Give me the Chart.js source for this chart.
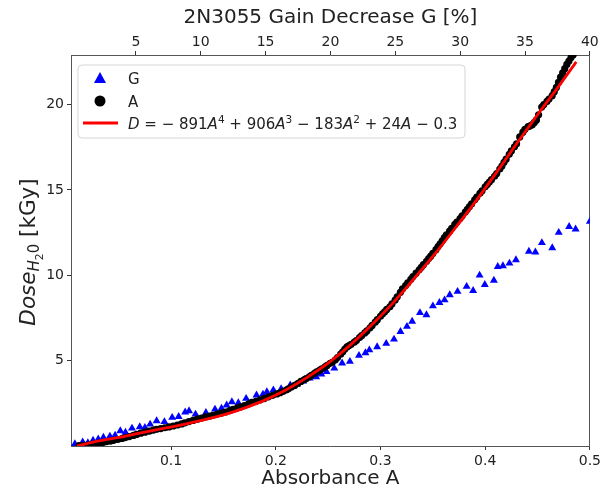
<!DOCTYPE html>
<html>
<head>
<meta charset="utf-8">
<script src="https://cdn.jsdelivr.net/npm/chart.js@4/dist/chart.umd.min.js"></script>
<style>
  html, body { margin: 0; padding: 0; background: #fff; }
</style>
</head>
<body>
<canvas id="chart" width="604" height="491"></canvas>
<script>
// Absorbance A (bottom axis) vs dose
const absorbance = [0.012, 0.016, 0.020, 0.024, 0.028, 0.031, 0.035, 0.038, 0.042, 0.045,
  0.049, 0.053, 0.056, 0.060, 0.064, 0.067, 0.071, 0.075, 0.079, 0.083,
  0.086, 0.090, 0.094, 0.098, 0.102, 0.106, 0.110, 0.113, 0.117, 0.121,
  0.125, 0.129, 0.133, 0.137, 0.140, 0.144, 0.148, 0.152, 0.156, 0.159,
  0.163, 0.166, 0.170, 0.174, 0.177, 0.181, 0.185, 0.189, 0.193, 0.197,
  0.201, 0.204, 0.207, 0.210, 0.212, 0.215, 0.218, 0.221, 0.224, 0.227,
  0.229, 0.232, 0.234, 0.237, 0.239, 0.242, 0.244, 0.247, 0.249, 0.252,
  0.254, 0.257, 0.259, 0.262, 0.264, 0.266, 0.268, 0.270, 0.272, 0.275,
  0.277, 0.280, 0.282, 0.285, 0.287, 0.290, 0.292, 0.295, 0.297, 0.300,
  0.302, 0.304, 0.306, 0.309, 0.311, 0.314, 0.316, 0.319, 0.321, 0.324,
  0.326, 0.329, 0.331, 0.334, 0.337, 0.339, 0.341, 0.344, 0.346, 0.348,
  0.350, 0.353, 0.355, 0.357, 0.359, 0.361, 0.363, 0.366, 0.368, 0.371,
  0.373, 0.376, 0.378, 0.381, 0.383, 0.385, 0.387, 0.390, 0.392, 0.395,
  0.397, 0.400, 0.402, 0.404, 0.406, 0.409, 0.411, 0.414, 0.416, 0.418,
  0.420, 0.423, 0.425, 0.428, 0.430, 0.433, 0.436, 0.438, 0.441, 0.443,
  0.445, 0.447, 0.449, 0.451, 0.454, 0.456, 0.459, 0.461, 0.464, 0.466,
  0.468, 0.470, 0.472, 0.474, 0.476, 0.478, 0.480, 0.482, 0.484, 0.486];
const doseA = [0.02, 0.04, 0.06, 0.10, 0.14, 0.17, 0.21, 0.25, 0.29, 0.33,
  0.38, 0.44, 0.49, 0.55, 0.62, 0.68, 0.75, 0.81, 0.87, 0.93,
  0.98, 1.02, 1.07, 1.12, 1.17, 1.23, 1.29, 1.35, 1.43, 1.50,
  1.57, 1.64, 1.70, 1.75, 1.80, 1.87, 1.93, 1.99, 2.07, 2.14,
  2.22, 2.29, 2.37, 2.47, 2.55, 2.62, 2.70, 2.78, 2.88, 2.97,
  3.05, 3.12, 3.20, 3.28, 3.35, 3.45, 3.55, 3.66, 3.78, 3.88,
  3.95, 4.05, 4.14, 4.26, 4.35, 4.44, 4.52, 4.63, 4.72, 4.84,
  4.90, 5.05, 5.18, 5.38, 5.52, 5.68, 5.80, 5.88, 5.96, 6.08,
  6.18, 6.35, 6.46, 6.62, 6.74, 6.92, 7.06, 7.25, 7.40, 7.60,
  7.74, 7.86, 8.00, 8.15, 8.32, 8.55, 8.74, 9.00, 9.20, 9.40,
  9.55, 9.76, 9.92, 10.12, 10.32, 10.47, 10.62, 10.82, 10.98, 11.12,
  11.28, 11.50, 11.68, 11.84, 12.02, 12.20, 12.36, 12.58, 12.75, 12.98,
  13.12, 13.32, 13.48, 13.70, 13.86, 14.02, 14.18, 14.42, 14.58, 14.80,
  14.95, 15.18, 15.32, 15.46, 15.60, 15.80, 15.96, 16.22, 16.40, 16.62,
  16.80, 17.08, 17.28, 17.52, 17.70, 18.10, 18.38, 18.55, 18.70, 18.75,
  18.82, 18.95, 19.10, 19.40, 19.85, 20.00, 20.18, 20.32, 20.52, 20.75,
  21.00, 21.30, 21.60, 21.85, 22.10, 22.35, 22.55, 22.75, 22.90, 23.10];

// Gain decrease G in % (top axis) vs dose
const gainG = [0.3, 0.9, 1.3, 1.7, 2.1, 2.5, 3.0, 3.4, 3.8, 4.2,
  4.7, 5.3, 5.7, 6.1, 6.6, 7.2, 7.8, 8.3, 8.8, 9.1,
  9.6, 10.4, 11.1, 11.6, 12.0, 12.4, 12.9, 13.5, 14.3, 14.8,
  15.1, 15.6, 16.2, 16.9, 17.4, 17.9, 18.4, 18.9, 19.3, 19.7,
  20.3, 20.9, 21.5, 22.2, 22.7, 23.0, 23.6, 24.3, 24.9, 25.4,
  25.9, 26.3, 26.9, 27.4, 27.9, 28.4, 28.8, 29.2, 29.8, 30.5,
  31.0, 31.5, 31.9, 32.6, 32.9, 33.3, 33.8, 34.3, 35.3, 35.8,
  36.3, 37.1, 37.6, 38.4, 38.9, 40.0];
const doseG = [0.12, 0.23, 0.18, 0.33, 0.40, 0.50, 0.57, 0.62, 0.88, 0.80,
  1.04, 1.12, 1.08, 1.27, 1.47, 1.42, 1.67, 1.72, 1.98, 2.06,
  1.86, 1.95, 2.15, 2.20, 2.39, 2.58, 2.52, 2.78, 2.98, 3.03,
  3.17, 3.28, 3.34, 3.56, 3.60, 3.80, 3.97, 4.05, 4.20, 4.35,
  4.55, 4.85, 4.95, 5.30, 5.45, 5.62, 5.80, 6.00, 6.25, 6.70,
  7.00, 7.30, 7.80, 7.68, 8.20, 8.40, 8.55, 8.85, 9.05, 9.34,
  9.10, 10.00, 9.45, 9.70, 10.50, 10.55, 10.70, 10.90, 11.40, 11.35,
  11.90, 11.60, 12.50, 12.85, 12.70, 13.15];

// polynomial fit curve
const fitA = [0.010, 0.030, 0.050, 0.070, 0.090, 0.110, 0.130, 0.150, 0.170, 0.190,
  0.210, 0.230, 0.250, 0.270, 0.290, 0.310, 0.330, 0.350, 0.370, 0.390,
  0.410, 0.430, 0.450, 0.470, 0.487];
const fitDose = [0.00, 0.28, 0.50, 0.76, 1.00, 1.24, 1.52, 1.82, 2.22, 2.70,
  3.30, 4.02, 4.85, 5.85, 7.00, 8.25, 9.65, 11.10, 12.65, 14.25,
  15.95, 17.70, 19.40, 21.05, 22.50];

const bottomTicks = [0.1, 0.2, 0.3, 0.4, 0.5];
const topTicks = [5, 10, 15, 20, 25, 30, 35, 40];
const doseTicks = [5, 10, 15, 20];

const FONT = "'DejaVu Sans', sans-serif";
Chart.defaults.font.family = FONT;
Chart.defaults.color = '#222';

function drawRich(ctx, segs, x, y, base, measureOnly) {
  let cx = x;
  for (const s of segs) {
    const size = base * (s.scale || 1);
    ctx.font = (s.it ? 'italic ' : '') + size + 'px ' + FONT;
    if (!measureOnly) ctx.fillText(s.t, cx, y + (s.dy || 0));
    cx += ctx.measureText(s.t).width;
  }
  return cx - x;
}

const yLabel = [
  { t: 'Dose', it: true },
  { t: 'H', it: true, scale: 0.7, dy: 4 },
  { t: '2', scale: 0.5, dy: 8 },
  { t: '0', scale: 0.7, dy: 4 },
  { t: ' [kGy]' }
];
const sup = { scale: 0.7, dy: -6 };
const fitLabel = [
  { t: 'D', it: true }, { t: ' = \u2212 891' }, { t: 'A', it: true }, Object.assign({ t: '4' }, sup),
  { t: ' + 906' }, { t: 'A', it: true }, Object.assign({ t: '3' }, sup),
  { t: ' \u2212 183' }, { t: 'A', it: true }, Object.assign({ t: '2' }, sup),
  { t: ' + 24' }, { t: 'A', it: true }, { t: ' \u2212 0.3' }
];

const decor = {
  id: 'decor',
  afterDraw(chart) {
    const ctx = chart.ctx;
    ctx.save();
    ctx.fillStyle = '#222';
    ctx.textBaseline = 'alphabetic';

    // y axis title with subscripts
    const w = drawRich(ctx, yLabel, 0, 0, 21.5, true);
    ctx.save();
    ctx.translate(35, 252);
    ctx.rotate(-Math.PI / 2);
    drawRich(ctx, yLabel, -w / 2, 0, 21.5);
    ctx.restore();

    // legend box
    const bx = 78, by = 65, bw = 387, bh = 73;
    ctx.beginPath();
    ctx.roundRect(bx, by, bw, bh, 4);
    ctx.fillStyle = 'rgba(255,255,255,0.8)';
    ctx.fill();
    ctx.strokeStyle = '#d6d6d6';
    ctx.lineWidth = 1;
    ctx.stroke();

    // markers
    ctx.fillStyle = '#0000ff';
    ctx.beginPath();
    ctx.moveTo(100, 72); ctx.lineTo(106, 83); ctx.lineTo(94, 83); ctx.closePath();
    ctx.fill();
    ctx.fillStyle = '#000';
    ctx.beginPath();
    ctx.arc(100, 101, 5.5, 0, Math.PI * 2);
    ctx.fill();
    ctx.strokeStyle = '#ff0000';
    ctx.lineWidth = 3;
    ctx.beginPath();
    ctx.moveTo(83, 123); ctx.lineTo(118, 123);
    ctx.stroke();

    ctx.fillStyle = '#222';
    ctx.font = '15px ' + FONT;
    ctx.fillText('G', 128, 84);
    ctx.fillText('A', 128, 107);
    drawRich(ctx, fitLabel, 128, 129, 15);
    ctx.restore();
  }
};

const tickStyle = { font: { size: 14 }, color: '#222', autoSkip: false, maxRotation: 0 };
const gridStyle = { drawOnChartArea: false, drawTicks: true, tickLength: 4, color: '#333' };
const borderStyle = { color: '#555', width: 1 };

new Chart(document.getElementById('chart'), {
  type: 'scatter',
  data: {
    datasets: [
      {
        label: 'fit',
        type: 'line',
        xAxisID: 'x',
        data: fitA.map((a, i) => ({ x: a, y: fitDose[i] })),
        borderColor: '#ff0000',
        borderWidth: 2.8,
        pointRadius: 0,
        cubicInterpolationMode: 'monotone',
        order: 0
      },
      {
        label: 'A',
        xAxisID: 'x',
        data: absorbance.map((a, i) => ({ x: a, y: doseA[i] })),
        pointStyle: 'circle',
        pointRadius: 3.6,
        backgroundColor: '#000',
        borderWidth: 0,
        order: 1
      },
      {
        label: 'G',
        xAxisID: 'x2',
        data: gainG.map((g, i) => ({ x: g, y: doseG[i] })),
        pointStyle: 'triangle',
        pointRadius: 4.6,
        backgroundColor: '#0000ff',
        borderWidth: 0,
        order: 2
      }
    ]
  },
  options: {
    responsive: false,
    animation: false,
    devicePixelRatio: 1,
    layout: { padding: 0 },
    plugins: { legend: { display: false }, tooltip: { enabled: false } },
    scales: {
      x: {
        type: 'linear', position: 'bottom', min: 0.0044, max: 0.5,
        afterBuildTicks: s => { s.ticks = bottomTicks.map(v => ({ value: v })); },
        afterFit: s => { s.height = 45; },
        ticks: Object.assign({ callback: v => v.toFixed(1) }, tickStyle),
        grid: gridStyle, border: borderStyle,
        title: { display: true, text: 'Absorbance A', font: { size: 20 }, color: '#222', padding: { top: 0, bottom: 0 } }
      },
      x2: {
        type: 'linear', position: 'top', min: 0, max: 40,
        afterBuildTicks: s => { s.ticks = topTicks.map(v => ({ value: v })); },
        afterFit: s => { s.height = 55; },
        ticks: Object.assign({ callback: v => String(v), padding: 0 }, tickStyle),
        grid: gridStyle, border: borderStyle,
        title: { display: true, text: '2N3055 Gain Decrease G [%]', font: { size: 20 }, color: '#222', padding: { top: 6, bottom: 0 } }
      },
      y: {
        type: 'linear', position: 'left', min: 0, max: 22.9,
        afterBuildTicks: s => { s.ticks = doseTicks.map(v => ({ value: v })); },
        afterFit: s => { s.width = 71; },
        ticks: Object.assign({ callback: v => String(v) }, tickStyle),
        grid: gridStyle, border: borderStyle
      },
      y2: {
        type: 'linear', position: 'right', min: 0, max: 1,
        afterFit: s => { s.width = 13; },
        ticks: { display: false },
        grid: { drawOnChartArea: false, drawTicks: false },
        border: borderStyle
      }
    }
  },
  plugins: [decor]
});
</script>
</body>
</html>
